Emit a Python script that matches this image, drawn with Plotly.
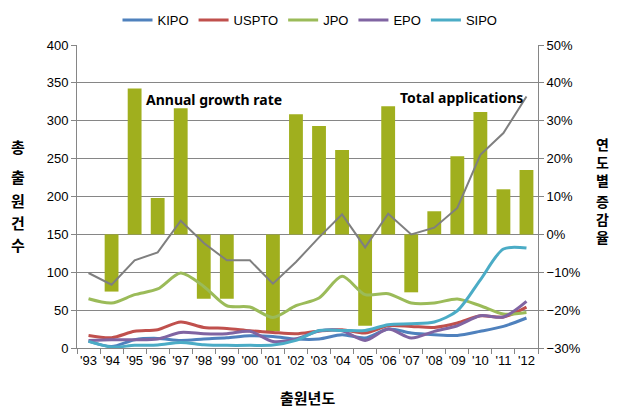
import plotly.graph_objects as go

years = ["'93", "'94", "'95", "'96", "'97", "'98", "'99", "'00", "'01", "'02",
         "'03", "'04", "'05", "'06", "'07", "'08", "'09", "'10", "'11", "'12"]

kipo  = [9, 2, 11, 12.7, 10, 11.9, 13.6, 16.2, 15.3, 11.9, 11.9, 17.6, 13.2, 25, 19.8, 17.6, 16.6, 22, 28.5, 39.6]
uspto = [16.6, 13.6, 22, 24.2, 34.3, 27.2, 25.9, 22.8, 20.6, 18.9, 22.5, 24.2, 19.8, 29.4, 28.5, 27.2, 33, 42.6, 40.9, 54]
jpo   = [65, 59.4, 70.4, 77.9, 99, 81.3, 55.8, 54.1, 40.4, 55.8, 66, 94.6, 70.4, 71.7, 59.4, 59.4, 64.7, 55.8, 44.9, 47]
epo   = [10, 11, 11, 11.9, 20.6, 18.9, 18.9, 22, 8.7, 11.9, 22.5, 22.8, 10, 25, 13.2, 22, 29.4, 42.6, 40.9, 61.5]
sipo  = [8.7, 1.3, 3.5, 3.9, 7.4, 4.4, 3.5, 3.5, 3.9, 10, 23, 23.2, 23.2, 30.8, 32, 34.3, 49.2, 90, 130.7, 132]
total = [99, 83.6, 115.7, 126.2, 168, 138.6, 115.7, 115.7, 84.9, 113.5, 146, 176.4, 132.8, 177.3, 150, 158.8, 184.8, 255, 283.8, 332]
growth = [None, -0.151, 0.385, 0.096, 0.333, -0.170, -0.170, 0.0, -0.256, 0.317,
          0.286, 0.223, -0.241, 0.338, -0.153, 0.061, 0.206, 0.323, 0.119, 0.170]

series = [("KIPO", kipo, "#4F81BD"), ("USPTO", uspto, "#C0504D"), ("JPO", jpo, "#9BBB59"),
          ("EPO", epo, "#8064A2"), ("SIPO", sipo, "#4BACC6")]

FONT = "Liberation Sans, Arial, sans-serif"
BFONT = "Noto Sans, Noto Sans CJK KR, sans-serif"
KFONT = "Noto Sans CJK KR, Noto Sans, sans-serif"

fig = go.Figure()
fig.add_trace(go.Bar(x=years, y=growth, yaxis="y", marker=dict(color="#A0AF1E", line=dict(width=0)),
                     width=0.6, showlegend=False, name="Annual growth rate"))
for name, vals, col in series:
    fig.add_trace(go.Scatter(x=years, y=vals, yaxis="y2", mode="lines", name=name,
                             line=dict(color=col, width=3, shape="spline", smoothing=0.8)))
fig.add_trace(go.Scatter(x=years, y=total, yaxis="y2", mode="lines", name="Total applications",
                         line=dict(color="#7F7F7F", width=2), showlegend=False))

# page body has an 8px margin: figure is drawn at (8, 8)
OFF = 8
FW, FH = 627 - OFF, 411 - OFF
L, R, T, B = 77, 538, 45, 348   # plot area in screenshot pixels
W, H = R - L, B - T
def px(x):
    return (x - L) / W
def py(y):
    return (B - y) / H

ann = [
    dict(text="<b>Annual growth rate</b>", x=px(214), y=py(99), font=dict(size=14, family=BFONT, color="black")),
    dict(text="<b>Total applications</b>", x=px(461), y=py(97), font=dict(size=14, family=BFONT, color="black")),
    dict(text="<b>출원년도</b>", x=px(307), y=py(397), font=dict(size=15, family=KFONT, color="black")),
]
left_chars = list("총출원건수")
left_y = [146, 176, 200, 222, 244]
for c, yy in zip(left_chars, left_y):
    ann.append(dict(text="<b>" + c + "</b>", x=px(18), y=py(yy), font=dict(size=15, family=KFONT, color="black")))
ann.append(dict(text="<b>연<br>도<br>별</b>", x=px(602), y=py(162), font=dict(size=14, family=KFONT, color="black")))
ann.append(dict(text="<b>증<br>감<br>율</b>", x=px(602), y=py(219), font=dict(size=14, family=KFONT, color="black")))
for a in ann:
    a.update(xref="paper", yref="paper", showarrow=False, xanchor="center", yanchor="middle")

grid = "#868686"
fig.update_layout(
    width=FW, height=FH,
    margin=dict(l=L - OFF, r=FW - (R - OFF), t=T - OFF, b=FH - (B - OFF), autoexpand=False),
    paper_bgcolor="white", plot_bgcolor="white",
    font=dict(family=FONT, size=13, color="black"),
    annotations=ann,
    legend=dict(orientation="h", xref="container", yref="container",
                x=(310 - OFF) / FW, y=1 - (20 - OFF) / FH,
                xanchor="center", yanchor="middle",
                font=dict(size=13, family=FONT), itemwidth=30, tracegroupgap=0,
                bgcolor="rgba(0,0,0,0)"),
    xaxis=dict(type="category", tickson="boundaries", ticks="outside", ticklen=5, tickcolor=grid,
               showline=True, linecolor=grid, showgrid=False, tickfont=dict(size=13), tickangle=0,
               range=[-0.5, 19.5]),
    yaxis=dict(side="right", range=[-0.3, 0.5], dtick=0.1, tickformat=".0%", showgrid=True,
               gridcolor=grid, showline=True, linecolor=grid, ticks="outside", ticklen=5,
               tickcolor=grid, zeroline=False, tickfont=dict(size=13)),
    yaxis2=dict(side="left", overlaying="y", range=[0, 400], dtick=50, showgrid=False,
                showline=True, linecolor=grid, ticks="outside", ticklen=5, tickcolor=grid,
                zeroline=False, tickfont=dict(size=13)),
)
fig.write_html("out.html")
